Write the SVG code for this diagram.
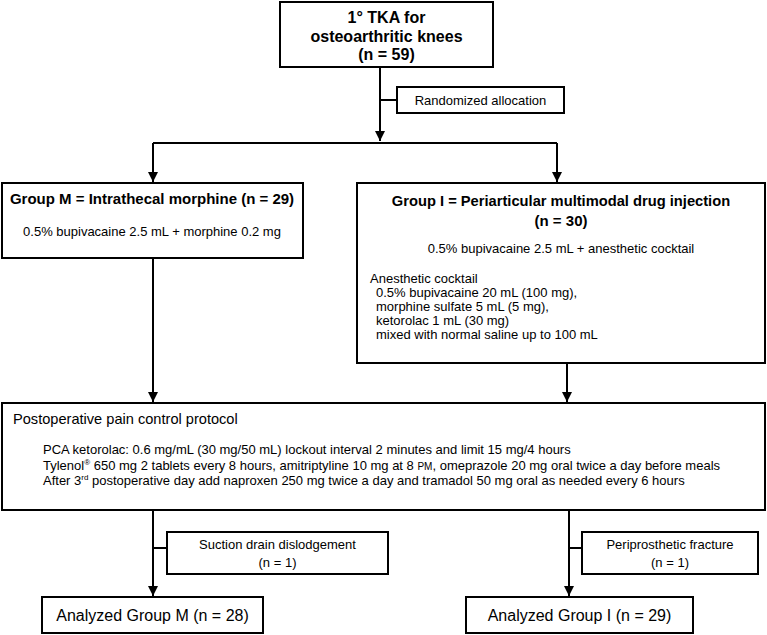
<svg xmlns="http://www.w3.org/2000/svg" width="767" height="635" viewBox="0 0 767 635">
<defs>
<marker id="ah" viewBox="0 0 10 10" refX="10" refY="5" markerWidth="5" markerHeight="5" orient="auto" markerUnits="strokeWidth">
<path d="M0,0 L10,5 L0,10 z" fill="#000"/>
</marker>
<style>
text{font-family:"Liberation Sans",Arial,Helvetica,sans-serif;fill:#000}
rect{fill:#fff;stroke:#000;stroke-width:2}
.ln{fill:none;stroke:#000;stroke-width:2}
.b{font-weight:bold;font-size:15px}
.t{font-weight:bold;font-size:16px}
.m{font-size:13px}
.s{font-size:13px}
.c{text-anchor:middle}
.big{font-size:16px}
</style>
</defs>
<rect x="0" y="0" width="767" height="635" style="fill:#fff;stroke:none"/>
<g id="connectors">
<path class="ln" d="M380,67 V141" marker-end="url(#ah)"/>
<path class="ln" d="M380,100 H397"/>
<path class="ln" d="M153,143 H557"/>
<path class="ln" d="M153,143 V182" marker-end="url(#ah)"/>
<path class="ln" d="M557,143 V182" marker-end="url(#ah)"/>
<path class="ln" d="M153,258 V402" marker-end="url(#ah)"/>
<path class="ln" d="M567,363 V402" marker-end="url(#ah)"/>
<path class="ln" d="M153,510 V596" marker-end="url(#ah)"/>
<path class="ln" d="M153,548 H167"/>
<path class="ln" d="M569,510 V596" marker-end="url(#ah)"/>
<path class="ln" d="M569,548 H582"/>
</g>
<g id="top">
<rect x="280" y="2" width="213" height="65"/>
<text class="t c" x="386.5" y="23">1° TKA for</text>
<text class="t c" x="386.5" y="42">osteoarthritic knees</text>
<text class="t c" x="386.5" y="60">(n = 59)</text>
</g>
<g id="random">
<rect x="397" y="87" width="167" height="26"/>
<text class="s c" x="480.5" y="105">Randomized allocation</text>
</g>
<g id="groupM">
<rect x="2" y="183" width="301" height="75"/>
<text class="b c" x="152" y="204">Group M = Intrathecal morphine (n = 29)</text>
<text class="m c" x="152" y="236">0.5% bupivacaine 2.5 mL + morphine 0.2 mg</text>
</g>
<g id="groupI">
<rect x="357" y="183" width="408" height="180"/>
<text class="b c" x="561" y="206" style="font-size:14.7px">Group I = Periarticular multimodal drug injection</text>
<text class="b c" x="561" y="226">(n = 30)</text>
<text class="m c" x="561" y="253">0.5% bupivacaine 2.5 mL + anesthetic cocktail</text>
<text class="m" x="370" y="283">Anesthetic cocktail</text>
<text class="m" x="376" y="297">0.5% bupivacaine 20 mL (100 mg),</text>
<text class="m" x="376" y="311">morphine sulfate 5 mL (5 mg),</text>
<text class="m" x="376" y="325">ketorolac 1 mL (30 mg)</text>
<text class="m" x="376" y="339">mixed with normal saline up to 100 mL</text>
</g>
<g id="protocol">
<rect x="2" y="403" width="763" height="107"/>
<text x="13" y="424" style="font-size:14.6px">Postoperative pain control protocol</text>
<text class="m" x="43" y="454">PCA ketorolac: 0.6 mg/mL (30 mg/50 mL) lockout interval 2 minutes and limit 15 mg/4 hours</text>
<text class="m" x="43" y="470">Tylenol<tspan dy="-5" style="font-size:8px">®</tspan><tspan dy="5"> 650 mg 2 tablets every 8 hours, amitriptyline 10 mg at 8 </tspan><tspan style="font-size:10px">PM</tspan>, omeprazole 20 mg oral twice a day before meals</text>
<text class="m" x="43" y="485">After 3<tspan dy="-5" style="font-size:8px">rd</tspan><tspan dy="5"> postoperative day add naproxen 250 mg twice a day and tramadol 50 mg oral as needed every 6 hours</tspan></text>
</g>
<g id="suction">
<rect x="167" y="532" width="221" height="42"/>
<text class="s c" x="277.5" y="549">Suction drain dislodgement</text>
<text class="s c" x="277.5" y="567">(n = 1)</text>
</g>
<g id="fracture">
<rect x="582" y="532" width="176" height="42"/>
<text class="s c" x="670" y="549">Periprosthetic fracture</text>
<text class="s c" x="670" y="567">(n = 1)</text>
</g>
<g id="analyzedM">
<rect x="42" y="597" width="221" height="36"/>
<text class="big c" x="152.5" y="621">Analyzed Group M (n = 28)</text>
</g>
<g id="analyzedI">
<rect x="466" y="597" width="227" height="36"/>
<text class="big c" x="579.5" y="621">Analyzed Group I (n = 29)</text>
</g>
</svg>
